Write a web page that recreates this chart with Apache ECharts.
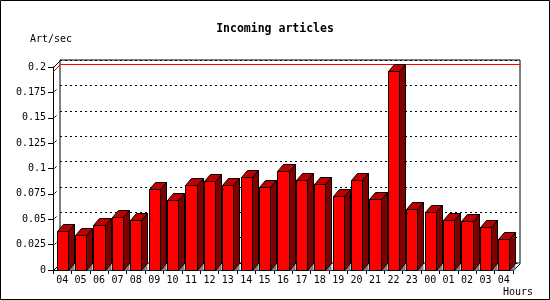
<!DOCTYPE html>
<html><head><meta charset="utf-8">
<script src="https://cdn.jsdelivr.net/npm/echarts@6/dist/echarts.min.js"></script>
<style>html,body{margin:0;padding:0;background:#fff}#c{width:550px;height:300px}</style>
</head><body><div id="c"></div>
<script>
const hours = ['04','05','06','07','08','09','10','11','12','13','14','15','16','17','18','19','20','21','22','23','00','01','02','03','04'];
const artPerSec = [0.0384,0.0345,0.0443,0.0519,0.0493,0.0798,0.069,0.0837,0.0877,0.0837,0.0916,0.0818,0.0975,0.0887,0.0847,0.0729,0.0887,0.070,0.1956,0.0598,0.0571,0.0493,0.0483,0.0424,0.0305];
const yMin = 0, yMax = 0.2, yStep = 0.025;
const titleText = 'Incoming articles';
const yName = 'Art/sec';
const xName = 'Hours';

const DX = 7, DY = 7;      // chart depth
const BDX = 6, BDY = 7;    // bar depth
const FONT = 'DejaVu Sans Mono';
const px = v => Math.round(v) + 0.5;
const maxVal = Math.max.apply(null, artPerSec);

const chart = echarts.init(document.getElementById('c'), null, {renderer: 'canvas'});

function renderBar(params, api) {
  const i = api.value(0), v = api.value(1);
  const base = api.coord([i, 0]), top = api.coord([i, v]);
  const bw = api.size([1, 0])[0] * 0.6;
  const xl = px(base[0] - bw / 2), xr = px(base[0] + bw / 2);
  const y0 = px(base[1]), y1 = px(top[1]);
  return {type: 'group', children: [
    {type: 'polygon', shape: {points: [[xr, y0], [xr + BDX, y0 - BDY], [xr + BDX, y0]]}, style: {fill: '#808080'}},
    {type: 'polygon', shape: {points: [[xr, y1], [xr + BDX, y1 - BDY], [xr + BDX, y0 - BDY], [xr, y0]]}, style: {fill: '#800000', stroke: '#000', lineWidth: 1}},
    {type: 'polygon', shape: {points: [[xl, y1], [xl + BDX, y1 - BDY], [xr + BDX, y1 - BDY], [xr, y1]]}, style: {fill: '#c00000', stroke: '#000', lineWidth: 1}},
    {type: 'rect', shape: {x: xl, y: y1, width: xr - xl, height: y0 - y1}, style: {fill: '#ff0000', stroke: '#000', lineWidth: 1}}
  ]};
}

function renderWalls(params, api) {
  const cs = params.coordSys;
  const x = px(cs.x), yT = px(cs.y), xR = px(cs.x + cs.width), yB = px(cs.y + cs.height);
  const kids = [
    {type: 'line', shape: {x1: x, y1: yT, x2: x + DX, y2: yT - DY}, style: {stroke: '#000', lineWidth: 1}},
    {type: 'line', shape: {x1: x, y1: yB, x2: x + DX, y2: yB - DY}, style: {stroke: '#000', lineWidth: 1}},
    {type: 'line', shape: {x1: xR, y1: yB, x2: xR + DX, y2: yB - DY}, style: {stroke: '#000', lineWidth: 1}}
  ];
  for (let v = yMin + yStep; v < yMax - 1e-9; v += yStep) {
    const yy = px(api.coord([0, v])[1]);
    kids.push({type: 'line', shape: {x1: x + 1, y1: yy - 1, x2: x + 3, y2: yy - 3}, style: {stroke: '#000', lineWidth: 1}});
  }
  return {type: 'group', children: kids};
}

function renderMaxLine(params, api) {
  const cs = params.coordSys;
  const y = px(api.coord([0, api.value(0)])[1]);
  const x = px(cs.x), xR = px(cs.x + cs.width);
  return {type: 'polyline', shape: {points: [[x - DX, y + DY], [x, y], [xR, y]]}, style: {stroke: '#ff0000', lineWidth: 1, fill: null}};
}

const option = {
  backgroundColor: '#fff',
  animation: false,
  title: {text: titleText, left: 'center', top: 18, textStyle: {fontFamily: FONT, fontWeight: 'bold', fontSize: 11.5, color: '#000'}},
  grid: [
    {left: 53, top: 67, width: 460, height: 203, outerBoundsMode: 'none', containLabel: false},
    {left: 60, top: 60, width: 460, height: 203, show: true, borderColor: '#000', borderWidth: 1, backgroundColor: 'transparent', outerBoundsMode: 'none', containLabel: false}
  ],
  xAxis: [
    {type: 'category', gridIndex: 0, data: hours, boundaryGap: true,
     axisLine: {show: true, lineStyle: {color: '#000', width: 1}},
     axisTick: {show: true, interval: 0, length: 4, alignWithLabel: false, lineStyle: {color: '#000'}},
     axisLabel: {interval: 0, margin: 5, fontFamily: FONT, fontSize: 10, color: '#000', hideOverlap: false},
     splitLine: {show: false}},
    {type: 'category', gridIndex: 1, data: hours, boundaryGap: true,
     axisLine: {show: false}, axisTick: {show: false}, axisLabel: {show: false}, splitLine: {show: false}}
  ],
  yAxis: [
    {type: 'value', gridIndex: 0, min: yMin, max: yMax, interval: yStep,
     axisLine: {show: true, lineStyle: {color: '#000', width: 1}},
     axisTick: {show: true, length: 5, lineStyle: {color: '#000'}},
     axisLabel: {margin: 7, fontFamily: FONT, fontSize: 10, color: '#000', showMinLabel: true, showMaxLabel: true},
     splitLine: {show: false}},
    {type: 'value', gridIndex: 1, min: yMin, max: yMax, interval: yStep,
     axisLine: {show: false}, axisTick: {show: false}, axisLabel: {show: false},
     splitLine: {show: true, lineStyle: {color: '#000', type: [2, 3], width: 1}}}
  ],
  series: [
    {type: 'custom', xAxisIndex: 1, yAxisIndex: 1, z: 1, clip: false, silent: true,
     data: [[maxVal]], encode: {y: 0}, renderItem: renderMaxLine},
    {type: 'custom', xAxisIndex: 0, yAxisIndex: 0, z: 1, clip: false, silent: true,
     data: [[0, 0]], renderItem: renderWalls},
    {type: 'custom', xAxisIndex: 0, yAxisIndex: 0, z: 3, clip: false,
     data: artPerSec.map((v, i) => [i, v]), encode: {x: 0, y: 1}, renderItem: renderBar}
  ],
  graphic: [
    {type: 'rect', shape: {x: 0.5, y: 0.5, width: 549, height: 299}, style: {fill: null, stroke: '#000', lineWidth: 1}, z: 100},
    {type: 'text', left: 30, top: 34, style: {text: yName, font: '10px "DejaVu Sans Mono"', fill: '#000'}},
    {type: 'text', right: 17, top: 287, style: {text: xName, font: '10px "DejaVu Sans Mono"', fill: '#000'}}
  ]
};
chart.setOption(option);
</script></body></html>
